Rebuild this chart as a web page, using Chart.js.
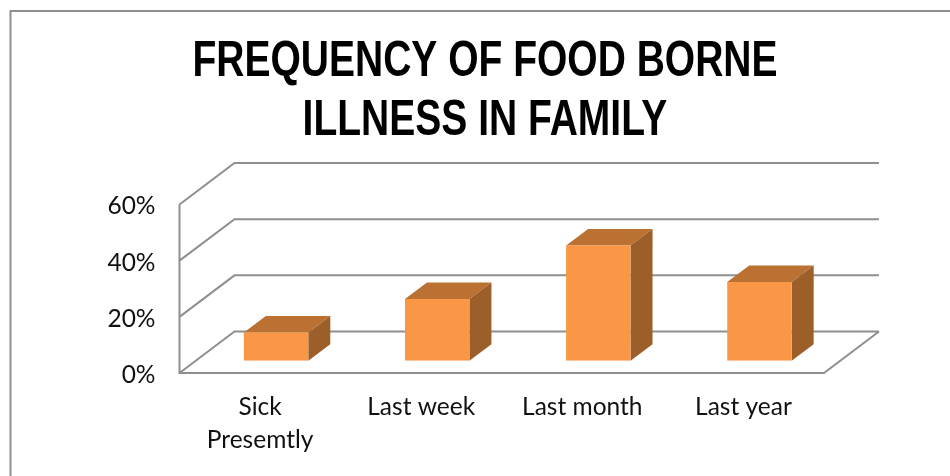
<!DOCTYPE html>
<html>
<head>
<meta charset="utf-8">
<style>
    html, body { margin: 0; padding: 0; background: #fff; overflow: hidden; }
    #wrap { width: 950px; height: 476px; }
</style>
<script src="https://cdn.jsdelivr.net/npm/chart.js@4"></script>
</head>
<body>
<div id="wrap"><canvas id="foodChart"></canvas></div>
<script>
const categories = [['Sick', 'Presemtly'], 'Last week', 'Last month', 'Last year'];
const illnessPct = [10, 22, 41, 28];
const yTicks = [0, 20, 40, 60];
const titleLines = ['FREQUENCY OF FOOD BORNE', 'ILLNESS IN FAMILY'];

const lineColor = '#8f8f8f';
// depth of the floor and how far the bars sit in from the front edge
const floorDepth = { x: 55, y: -41.5 };
const barShift = { x: 16, y: -12.3 };
const barDepth = { x: 22, y: -16.5 };
// no narrow bold font is installed, so the title is squeezed sideways
const titleCenter = 485;
const titleSqueeze = 0.78;

const frame3d = {
    id: 'frame3d',
    afterLayout(chart) {
        const block = chart.titleBlock;
        block.left = 20;
        block.right = 950;
        if (!block.squeezed) {
            const draw = block.draw;
            block.draw = function () {
                const ctx = chart.ctx;
                ctx.save();
                ctx.translate(titleCenter, 0);
                ctx.scale(titleSqueeze, 1);
                ctx.translate(-titleCenter, 0);
                draw.call(block);
                ctx.restore();
            };
            block.squeezed = true;
        }
    },
    beforeDraw(chart) {
        const ctx = chart.ctx;
        ctx.save();
        ctx.strokeStyle = lineColor;
        ctx.lineWidth = 2;
        ctx.beginPath();
        ctx.moveTo(10.5, 476);
        ctx.lineTo(10.5, 11);
        ctx.lineTo(950, 11);
        ctx.stroke();
        ctx.restore();
    },
    beforeDatasetsDraw(chart) {
        const ctx = chart.ctx;
        const { left, right } = chart.chartArea;
        const y = chart.scales.y;
        ctx.save();
        ctx.strokeStyle = lineColor;
        ctx.lineWidth = 2;
        ctx.beginPath();
        yTicks.forEach(v => {
            const py = y.getPixelForValue(v);
            ctx.moveTo(left, py);
            ctx.lineTo(left + floorDepth.x, py + floorDepth.y);
            ctx.lineTo(right + floorDepth.x, py + floorDepth.y);
        });
        const y0 = y.getPixelForValue(0);
        ctx.moveTo(left, y.getPixelForValue(60));
        ctx.lineTo(left, y0);
        ctx.lineTo(right, y0);
        ctx.lineTo(right + floorDepth.x, y0 + floorDepth.y);
        ctx.stroke();
        ctx.restore();
    },
    beforeDatasetDraw(chart, args) {
        const ctx = chart.ctx;
        ctx.save();
        ctx.translate(barShift.x, barShift.y);
        args.meta.data.forEach(bar => {
            const l = bar.x - bar.width / 2;
            const r = bar.x + bar.width / 2;
            const dx = barDepth.x, dy = barDepth.y;
            ctx.fillStyle = '#BA7132';
            ctx.beginPath();
            ctx.moveTo(l, bar.y);
            ctx.lineTo(l + dx, bar.y + dy);
            ctx.lineTo(r + dx, bar.y + dy);
            ctx.lineTo(r, bar.y);
            ctx.closePath();
            ctx.fill();
            ctx.fillStyle = '#9C5F2A';
            ctx.beginPath();
            ctx.moveTo(r, bar.y);
            ctx.lineTo(r + dx, bar.y + dy);
            ctx.lineTo(r + dx, bar.base + dy);
            ctx.lineTo(r, bar.base);
            ctx.closePath();
            ctx.fill();
        });
    },
    afterDatasetDraw(chart) {
        chart.ctx.restore();
    }
};

new Chart(document.getElementById('foodChart'), {
    type: 'bar',
    data: {
        labels: categories,
        datasets: [{
            data: illnessPct,
            backgroundColor: '#F99746',
            borderWidth: 0,
            barPercentage: 0.4,
            categoryPercentage: 1
        }]
    },
    options: {
        responsive: true,
        maintainAspectRatio: false,
        animation: false,
        layout: { padding: { left: 0, right: 126, top: 0, bottom: 0 } },
        plugins: {
            legend: { display: false },
            tooltip: { enabled: false },
            title: {
                display: true,
                text: titleLines,
                color: '#000',
                font: { family: '"Liberation Sans"', size: 50, weight: 'bold', lineHeight: 1.18 },
                padding: { top: 33, bottom: 53.5 }
            }
        },
        scales: {
            x: {
                grid: { display: false },
                border: { display: false },
                afterFit: s => { s.height = 103; },
                ticks: { color: '#111', padding: 9.5, maxRotation: 0, autoSkip: false, font: { family: 'Lato', size: 24.5, lineHeight: 1.35 } }
            },
            y: {
                min: 0,
                max: 60,
                grid: { display: false },
                border: { display: false },
                afterFit: s => { s.width = 179.5; },
                ticks: {
                    stepSize: 20,
                    padding: 16,
                    labelOffset: 2,
                    color: '#111',
                    font: { family: 'Lato', size: 24.5 },
                    callback: v => v + '%'
                }
            }
        }
    },
    plugins: [frame3d]
});
</script>
</body>
</html>
